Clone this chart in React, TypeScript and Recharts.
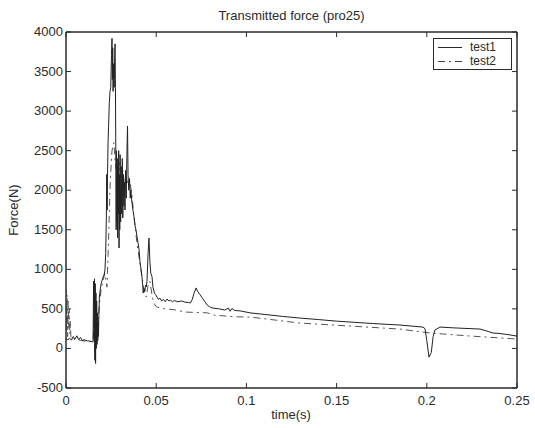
import { Line, LineChart, ReferenceArea, XAxis, YAxis } from "recharts";

// time (s), force (N)
const test1: [number, number][] = [
  [0, 120], [0.001, 110], [0.002, 130], [0.003, 105], [0.004, 150], [0.005, 120],
  [0.006, 160], [0.007, 110], [0.008, 140], [0.009, 100], [0.01, 110], [0.012, 95],
  [0.014, 90], [0.015, 80], [0.0153, 850], [0.0156, 100], [0.0158, 880], [0.016, -150],
  [0.0162, 820], [0.0164, -190], [0.0166, 700], [0.0168, 0], [0.017, 600], [0.0172, 50],
  [0.0174, 450], [0.0176, 100], [0.0178, 350], [0.018, 150], [0.0182, 400], [0.0185, 650],
  [0.019, 750], [0.0195, 820], [0.02, 860], [0.0205, 900], [0.0211, 930], [0.0216, 990],
  [0.022, 1200], [0.0224, 1700], [0.0226, 2200], [0.0228, 1750], [0.023, 2150], [0.0233, 2600],
  [0.0236, 2800], [0.024, 3100], [0.0244, 3250], [0.0248, 3300], [0.0252, 3700], [0.0255, 3920],
  [0.0257, 3400], [0.0259, 3800], [0.0261, 3250], [0.0264, 3600], [0.0267, 3300], [0.027, 3700],
  [0.0272, 3850], [0.0274, 3300], [0.0276, 2550], [0.0278, 1500], [0.028, 2500], [0.0282, 1600],
  [0.0284, 2400], [0.0286, 1400], [0.0288, 2300], [0.029, 1700], [0.0292, 2500], [0.0294, 1270],
  [0.0296, 2200], [0.0298, 1500], [0.03, 2450], [0.0303, 1600], [0.0306, 2300], [0.0309, 1700],
  [0.0312, 2400], [0.0315, 1650], [0.0318, 2200], [0.0321, 1800], [0.0324, 2100], [0.0327, 1750],
  [0.033, 2250], [0.0334, 1900], [0.0338, 2500], [0.0341, 2810], [0.0344, 2200], [0.0348, 2000],
  [0.0352, 2150], [0.0356, 1900], [0.036, 2000], [0.0365, 1850], [0.0371, 1750], [0.0378, 1650],
  [0.0383, 1550], [0.0388, 1500], [0.0393, 1420], [0.0399, 1340], [0.0405, 1250], [0.041, 1100],
  [0.0416, 1000], [0.0421, 905], [0.0425, 800], [0.0428, 700], [0.0432, 760], [0.0437, 720],
  [0.0441, 800], [0.0445, 780], [0.0449, 850], [0.0455, 1200], [0.046, 1395], [0.0465, 1100],
  [0.047, 950], [0.0477, 905], [0.0482, 775], [0.049, 700], [0.0497, 680], [0.0504, 650],
  [0.0512, 620], [0.0521, 635], [0.053, 600], [0.054, 620], [0.055, 590], [0.056, 625],
  [0.057, 600], [0.058, 610], [0.059, 590], [0.06, 605], [0.062, 590], [0.064, 600],
  [0.066, 585], [0.068, 580], [0.069, 575], [0.07, 620], [0.071, 700], [0.0721, 765],
  [0.073, 720], [0.0743, 680], [0.0755, 640], [0.077, 590], [0.0782, 550], [0.08, 520],
  [0.0815, 510], [0.085, 500], [0.088, 485], [0.09, 510], [0.091, 470], [0.092, 505],
  [0.0935, 480], [0.0965, 475], [0.102, 450], [0.11, 430], [0.12, 405], [0.1297, 384],
  [0.14, 365], [0.15, 345], [0.1574, 334], [0.17, 315], [0.1851, 296], [0.1979, 270],
  [0.199, 250], [0.2, 100], [0.2012, -110], [0.2025, -50], [0.2035, 150], [0.2045, 232],
  [0.2073, 270], [0.215, 260], [0.2295, 245], [0.234, 215], [0.2367, 195], [0.24, 190],
  [0.245, 175], [0.25, 156],
];

const test2: [number, number][] = [
  [0, 750], [0.0003, 200], [0.0006, 680], [0.0009, 150], [0.0012, 600], [0.0015, 250],
  [0.0018, 500], [0.0021, 180], [0.0024, 350], [0.0027, 150], [0.003, 120], [0.004, 130],
  [0.005, 110], [0.006, 120], [0.008, 100], [0.01, 95], [0.013, 85], [0.015, 90],
  [0.0155, 400], [0.016, -100], [0.0165, 600], [0.017, 80], [0.0178, 300], [0.0185, 550],
  [0.0195, 750], [0.0205, 850], [0.0215, 950], [0.0227, 775], [0.0235, 1300], [0.0245, 2100],
  [0.0255, 2500], [0.0265, 2600], [0.0275, 2300], [0.0285, 2200], [0.0295, 2350], [0.0305, 2150],
  [0.0315, 2250], [0.0325, 2050], [0.0335, 2150], [0.0345, 2050], [0.0355, 2100], [0.0365, 1950],
  [0.0375, 1700], [0.0385, 1500], [0.0395, 1300], [0.0405, 1150], [0.0415, 1000], [0.0425, 850],
  [0.0435, 700], [0.0445, 650], [0.0455, 800], [0.0465, 850], [0.0475, 700], [0.0485, 580],
  [0.05, 530], [0.0521, 510], [0.055, 500], [0.06, 490], [0.066, 460], [0.0782, 450],
  [0.0826, 420], [0.0937, 400], [0.102, 397], [0.1297, 321], [0.1574, 283], [0.1851, 245],
  [0.2018, 195], [0.224, 157], [0.25, 119],
];

const timeTicks = [0, 0.05, 0.1, 0.15, 0.2, 0.25];
const forceTicks = [-500, 0, 500, 1000, 1500, 2000, 2500, 3000, 3500, 4000];

const FONT = "'Liberation Sans', Arial, sans-serif";
const INK = "#2a2a2a";

const toRows = (pts: [number, number][]) => pts.map(([t, f]) => ({ t, f }));

function BottomTick({ x, y, payload }: any) {
  return (
    <g>
      <line x1={x} x2={x} y1={y} y2={y - 5} stroke={INK} />
      <text x={x} y={y + 17} textAnchor="middle" fontSize={13} fill={INK} fontFamily={FONT}>
        {payload.value}
      </text>
    </g>
  );
}

function TopTick({ x, y }: any) {
  return <line x1={x} x2={x} y1={y} y2={y + 5} stroke={INK} />;
}

function LeftTick({ x, y, payload }: any) {
  return (
    <g>
      <line x1={x} x2={x + 5} y1={y} y2={y} stroke={INK} />
      <text x={x - 3} y={y + 4} textAnchor="end" fontSize={13} fill={INK} fontFamily={FONT}>
        {payload.value}
      </text>
    </g>
  );
}

function RightTick({ x, y }: any) {
  return <line x1={x} x2={x - 5} y1={y} y2={y} stroke={INK} />;
}

function LegendBox() {
  return (
    <div
      style={{
        position: "absolute",
        left: 433,
        top: 38,
        width: 77,
        height: 30,
        border: `1px solid ${INK}`,
        background: "#fff",
        fontFamily: FONT,
        fontSize: 12,
        color: INK,
      }}
    >
      <svg width={30} height={30} style={{ position: "absolute", left: 4, top: 0 }}>
        <line x1={0} x2={24} y1={8.5} y2={8.5} stroke={INK} />
        <line x1={0} x2={24} y1={22.5} y2={22.5} stroke="#444" strokeDasharray="7 4 2 4" />
      </svg>
      <div style={{ position: "absolute", left: 36, top: 1, lineHeight: "14px" }}>test1</div>
      <div style={{ position: "absolute", left: 36, top: 15, lineHeight: "14px" }}>test2</div>
    </div>
  );
}

export default function App() {
  return (
    <div style={{ position: "fixed", left: 0, top: 0, width: 535, height: 428, background: "#fff" }}>
      <div
        style={{
          position: "absolute",
          left: 66,
          width: 451,
          top: 8,
          textAlign: "center",
          fontFamily: FONT,
          fontSize: 13,
          color: INK,
        }}
      >
        Transmitted force (pro25)
      </div>
      <LineChart width={535} height={428} margin={{ top: 31, right: 17, bottom: 0, left: 0 }}>
        <XAxis
          xAxisId="b"
          dataKey="t"
          type="number"
          domain={[0, 0.25]}
          ticks={timeTicks}
          allowDataOverflow
          height={40}
          tickSize={0}
          tickMargin={0}
          tickLine={false}
          stroke={INK}
          tick={<BottomTick />}
          label={() => (
            <text x={291} y={419} textAnchor="middle" fontSize={13} fill={INK} fontFamily={FONT}>
              time(s)
            </text>
          )}
        />
        <XAxis
          xAxisId="top"
          orientation="top"
          dataKey="t"
          type="number"
          domain={[0, 0.25]}
          ticks={timeTicks}
          allowDataOverflow
          height={1}
          tickSize={0}
          tickMargin={0}
          tickLine={false}
          stroke={INK}
          tick={<TopTick />}
        />
        <YAxis
          yAxisId="l"
          type="number"
          domain={[-500, 4000]}
          ticks={forceTicks}
          allowDataOverflow
          width={66}
          tickSize={0}
          tickMargin={0}
          tickLine={false}
          stroke={INK}
          tick={<LeftTick />}
          label={() => (
            <text
              x={18}
              y={210}
              transform="rotate(-90 18 210)"
              textAnchor="middle"
              fontSize={13}
              fill={INK}
              fontFamily={FONT}
            >
              Force(N)
            </text>
          )}
        />
        <YAxis
          yAxisId="r"
          orientation="right"
          type="number"
          domain={[-500, 4000]}
          ticks={forceTicks}
          allowDataOverflow
          width={1}
          tickSize={0}
          tickMargin={0}
          tickLine={false}
          stroke={INK}
          tick={<RightTick />}
        />
        <ReferenceArea
          xAxisId="b"
          yAxisId="l"
          x1={0}
          x2={0.25}
          y1={-500}
          y2={4000}
          fill="none"
          stroke={INK}
          strokeWidth={1}
          ifOverflow="extendDomain"
        />
        <Line
          xAxisId="b"
          yAxisId="l"
          data={toRows(test2)}
          dataKey="f"
          name="test2"
          type="linear"
          stroke="#555"
          strokeWidth={1}
          strokeDasharray="7 4 2 4"
          dot={false}
          isAnimationActive={false}
        />
        <Line
          xAxisId="b"
          yAxisId="l"
          data={toRows(test1)}
          dataKey="f"
          name="test1"
          type="linear"
          stroke="#222"
          strokeWidth={1}
          dot={false}
          isAnimationActive={false}
        />
      </LineChart>
      <LegendBox />
    </div>
  );
}
